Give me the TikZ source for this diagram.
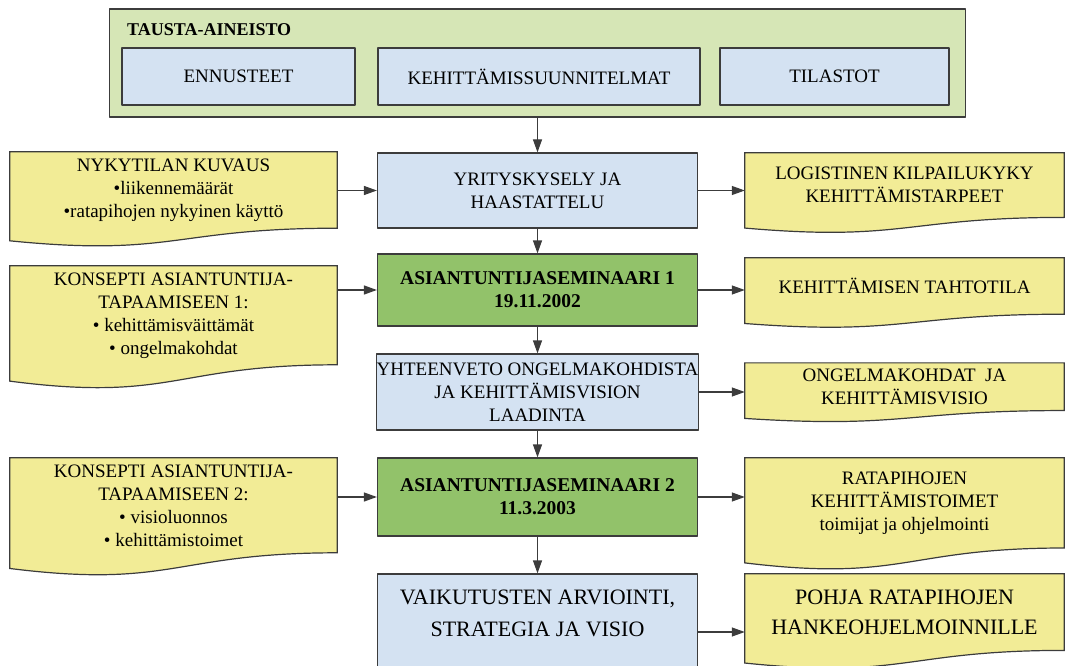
\documentclass[tikz,border=0pt]{standalone}
\usepackage{fontspec}
\setmainfont{Liberation Serif}
\usetikzlibrary{calc,backgrounds,arrows.meta}
\definecolor{taustavihrea}{RGB}{214,230,182}
\definecolor{vaaleansininen}{RGB}{212,226,242}
\definecolor{seminaarivihrea}{RGB}{146,194,106}
\definecolor{keltainen}{RGB}{242,236,150}
\definecolor{reuna}{RGB}{60,60,60}
% aaltoreunainen asiakirja solmun ympärille
\newcommand{\dokumentti}[1]{%
	\begin{scope}[on background layer]
		\draw[doku] (#1.north west) -- (#1.north east) -- (#1.south east)
		.. controls (#1.south) and ($(#1.south)!-0.38!(#1.north)$) .. ($(#1.south west)!-0.165!(#1.north west)$) -- cycle;
	\end{scope}}
\begin{document}
\begin{tikzpicture}[x=1pt, y=-1pt, line join=round,
		font=\fontsize{19}{23}\selectfont,
		>={Triangle[length=13pt,width=9pt]},
		reunat/.style={draw=reuna, line width=1.2pt},
		tausta/.style={reunat, fill=taustavihrea, inner sep=0pt},
		lohko/.style={reunat, fill=vaaleansininen, inner sep=0pt, align=center, minimum width=320pt},
		seminaari/.style={lohko, fill=seminaarivihrea, font=\fontsize{19.5}{23}\selectfont\bfseries},
		doku/.style={reunat, fill=keltainen},
		dokuteksti/.style={inner sep=0pt, align=center},
		nuoli/.style={->, line width=1.2pt, draw=reuna}]
	\def\keski{537.5} \def\vasen{173.5} \def\oikea{904.5}
	\useasboundingbox (0,0) rectangle (1066,666);
	% tausta-aineisto
	\node[tausta, minimum width=856pt, minimum height=108pt] (tausta) at (\keski,63) {};
	\node[font=\fontsize{18}{22}\selectfont\bfseries, anchor=west, inner sep=0pt] (otsikko) at (127,30) {TAUSTA-AINEISTO};
	\node[lohko, minimum width=233pt, minimum height=57pt] (ennusteet) at (238.5,76.5) {ENNUSTEET};
	\node[lohko, minimum width=322pt, minimum height=57pt] (suunnitelmat) at (539,76.5) {KEHITTÄMISSUUNNITELMAT};
	\node[lohko, minimum width=229pt, minimum height=57pt] (tilastot) at (834.5,76.5) {TILASTOT};
	% keskisarake
	\node[lohko, minimum height=75pt] (yritys) at (\keski,190.5) {YRITYSKYSELY JA\\HAASTATTELU};
	\node[seminaari, minimum height=72pt] (seminaari1) at (\keski,290) {ASIANTUNTIJASEMINAARI 1\\19.11.2002};
	\node[lohko, minimum height=76pt] (yhteenveto) at (\keski,392) {YHTEENVETO ONGELMAKOHDISTA\\JA KEHITTÄMISVISION\\LAADINTA};
	\node[seminaari, minimum height=78pt] (seminaari2) at (\keski,497) {ASIANTUNTIJASEMINAARI 2\\11.3.2003};
	\node[lohko, minimum height=98pt, font=\fontsize{22}{32}\selectfont] (vaikutus) at (\keski,623) {VAIKUTUSTEN ARVIOINTI,\\STRATEGIA JA VISIO\rule[-20pt]{0pt}{0pt}};
	% vasen sarake
	\node[dokuteksti, minimum width=327pt, minimum height=76pt] (nyky) at (\vasen,190) {NYKYTILAN KUVAUS\\•liikennemäärät\\•ratapihojen nykyinen käyttö};
	\node[dokuteksti, minimum width=327pt, minimum height=98.6pt] (konsepti1) at (\vasen,315.3) {KONSEPTI ASIANTUNTIJA-\\TAPAAMISEEN 1:\\• kehittämisväittämät\\• ongelmakohdat};
	\node[dokuteksti, minimum width=327pt, minimum height=94.6pt] (konsepti2) at (\vasen,505.3) {KONSEPTI ASIANTUNTIJA-\\TAPAAMISEEN 2:\\• visioluonnos\\• kehittämistoimet};
	% oikea sarake
	\node[dokuteksti, minimum width=319pt, minimum height=64.2pt] (logist) at (\oikea,185.1) {LOGISTINEN KILPAILUKYKY\\KEHITTÄMISTARPEET};
	\node[dokuteksti, minimum width=319pt, minimum height=56pt] (tahto) at (\oikea,286) {KEHITTÄMISEN TAHTOTILA};
	\node[dokuteksti, minimum width=319pt, minimum height=47.3pt] (ongel) at (\oikea,386.7) {ONGELMAKOHDAT\ \ JA\\KEHITTÄMISVISIO};
	\node[dokuteksti, minimum width=319pt, minimum height=89.8pt] (ratapiho) at (\oikea,502.9) {RATAPIHOJEN\\KEHITTÄMISTOIMET\\toimijat ja ohjelmointi};
	\node[dokuteksti, minimum width=319pt, minimum height=76.2pt, font=\fontsize{22}{30}\selectfont] (pohja) at (\oikea,612.1) {POHJA RATAPIHOJEN\\HANKEOHJELMOINNILLE};
	\foreach \d in {nyky,konsepti1,konsepti2,logist,tahto,ongel,ratapiho,pohja}
		\dokumentti{\d};
	% nuolet
	\draw[nuoli] (tausta) -- (yritys);
	\foreach \a/\b in {yritys/seminaari1, seminaari1/yhteenveto, yhteenveto/seminaari2, seminaari2/vaikutus}
		\draw[nuoli] (\a) -- (\b);
	\foreach \a/\b in {nyky/yritys, konsepti1/seminaari1, konsepti2/seminaari2}
		\draw[nuoli] (\a.east |- \b) -- (\b.west);
	\foreach \a/\b in {yritys/logist, seminaari1/tahto, yhteenveto/ongel, seminaari2/ratapiho}
		\draw[nuoli] (\a.east) -- (\a -| \b.west);
	\draw[nuoli] ([yshift=-9pt]vaikutus.east) -- ([yshift=-9pt]vaikutus.east -| pohja.west);
\end{tikzpicture}
\end{document}
